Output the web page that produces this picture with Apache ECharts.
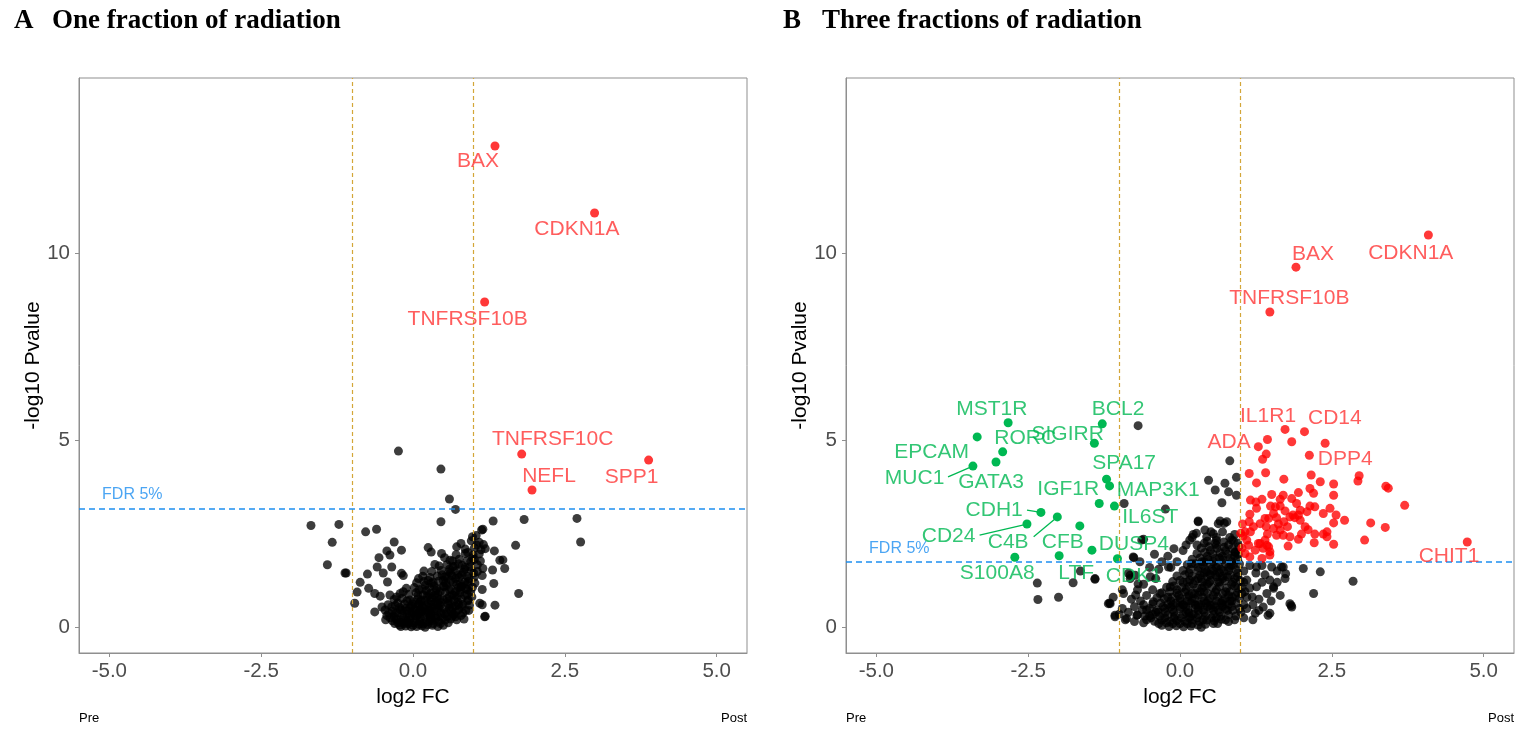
<!DOCTYPE html>
<html><head><meta charset="utf-8">
<script src="https://cdn.jsdelivr.net/npm/echarts@6/dist/echarts.min.js"></script>
<style>html,body{margin:0;padding:0;background:#fff}#c{width:1523px;height:733px}</style>
</head><body><div id="c"></div>
<script>
// ---------- axis ticks ----------
const xTicks = [-5, -2.5, 0, 2.5, 5];
const yTicks = [0, 5, 10];
const fdrOne = 3.16;
const fdrThree = 1.76;

// ---------- Panel A: one fraction ----------
const oneRedGenes = ['BAX','CDKN1A','TNFRSF10B','TNFRSF10C','NEFL','SPP1'];
const oneRedFC    = [1.35, 2.99, 1.18, 1.79, 1.96, 3.88];
const oneRedP     = [12.87, 11.08, 8.70, 4.63, 3.67, 4.47];
const oneLabelFC  = [1.07, 2.70, 0.90, 2.30, 2.24, 3.60];
const oneLabelP   = [12.47, 10.65, 8.24, 5.03, 4.04, 4.01];

const oneBlack = [
[-0.24,4.71],[0.46,4.23],[0.60,3.43],[0.70,3.15],[0.46,2.82],[-1.68,2.72],[-1.22,2.75],[-1.33,2.27],[-1.41,1.67],[-1.12,1.45],[-1.10,1.45],
[-0.78,2.55],[-0.60,2.62],[1.32,2.84],[1.83,2.88],[1.69,2.19],[1.74,0.90],[1.35,0.59],[1.19,0.29],[-0.96,0.64],[-0.92,0.94],[-0.87,1.20],
[-0.75,1.42],[-0.56,1.86],[-0.42,1.21],[-0.31,2.28],[-0.19,2.06],[-0.43,2.04],[-0.38,1.93],[-0.35,1.61],[-0.59,1.61],[-0.49,1.45],[-0.19,1.44],
[-0.16,1.38],[-0.73,1.04],[-0.63,0.90],[-0.54,0.83],[-0.38,0.86],[-0.16,0.95],[-0.27,0.81],[-0.63,0.41],[-0.51,0.54],[0.25,2.13],[0.30,2.01],
[0.47,1.97],[0.72,2.15],[0.79,2.24],[0.98,2.42],[1.13,2.60],[1.15,2.62],[1.16,2.21],[1.19,2.10],[1.34,2.04],[1.43,1.79],[1.48,1.80],[1.51,1.57],
[1.31,1.53],[1.15,1.57],[1.14,1.38],[1.33,1.17],[1.14,1.01],[1.10,0.64],[1.14,0.60],[0.79,1.08],[0.90,1.00],[0.97,0.81],[0.09,1.30],[0.18,1.50],
[0.36,1.68],[0.52,1.86],[0.65,1.77],[2.70,2.91],[2.76,2.28],[1.18,0.28],
[-0.22,0.06],[-0.12,0.03],[-0.03,0.01],[0.06,0.02],[0.15,0.04],[0.24,0.07],[0.33,0.10],[-0.08,0.09],[0.10,0.08],[0.20,0.00],
[-0.34,0.17],[-0.21,0.13],[-0.10,0.15],[0.01,0.12],[0.11,0.16],[0.22,0.14],[0.31,0.18],[0.43,0.15],[0.53,0.19],[-0.28,0.22],[0.05,0.21],[0.38,0.24],
[-0.43,0.31],[-0.31,0.28],[-0.17,0.33],[-0.06,0.29],[0.07,0.32],[0.19,0.27],[0.29,0.33],[0.41,0.30],[0.56,0.28],[0.67,0.34],[0.79,0.31],[0.62,0.22],[0.72,0.20],
[-0.46,0.46],[-0.34,0.43],[-0.21,0.47],[-0.09,0.44],[0.03,0.48],[0.15,0.42],[0.27,0.46],[0.40,0.44],[0.51,0.49],[0.63,0.43],[0.75,0.47],[0.87,0.45],[-0.40,0.38],[0.10,0.38],[0.46,0.38],
[-0.41,0.60],[-0.29,0.58],[-0.14,0.62],[-0.03,0.57],[0.10,0.61],[0.22,0.59],[0.34,0.63],[0.45,0.58],[0.58,0.62],[0.70,0.57],[0.82,0.61],[0.93,0.59],[-0.22,0.53],[0.28,0.53],[0.65,0.52],
[-0.31,0.74],[-0.18,0.77],[-0.05,0.73],[0.08,0.76],[0.20,0.72],[0.31,0.78],[0.44,0.74],[0.56,0.77],[0.68,0.72],[0.80,0.76],[0.91,0.73],[0.00,0.68],[0.38,0.68],[0.74,0.67],
[-0.21,0.90],[-0.07,0.88],[0.05,0.92],[0.17,0.87],[0.29,0.91],[0.41,0.89],[0.53,0.93],[0.65,0.87],[0.77,0.92],[0.89,0.88],[0.23,0.82],[0.60,0.82],
[-0.11,1.04],[0.02,1.06],[0.15,1.02],[0.27,1.07],[0.39,1.03],[0.51,1.08],[0.63,1.02],[0.75,1.06],[0.87,1.03],[0.98,1.07],
[0.06,1.19],[0.18,1.22],[0.30,1.18],[0.42,1.23],[0.54,1.19],[0.66,1.21],[0.78,1.17],[0.91,1.22],[1.02,1.18],
[0.16,1.36],[0.28,1.33],[0.40,1.37],[0.52,1.34],[0.64,1.38],[0.76,1.33],[0.89,1.36],[1.01,1.34],
[0.31,1.49],[0.46,1.52],[0.59,1.48],[0.71,1.51],[0.83,1.47],[0.96,1.52],[1.06,1.49],
[0.43,1.64],[0.56,1.67],[0.69,1.63],[0.81,1.66],[0.94,1.62],[1.06,1.67],
[0.61,1.79],[0.76,1.82],[0.89,1.78],[1.01,1.81],[1.11,1.77],
[0.71,1.94],[0.86,1.97],[0.99,1.93],[1.09,1.96],
[0.86,2.09],[1.01,2.12],[1.12,2.07],[0.96,2.31],[1.09,2.27],[1.04,2.45],
[-0.20,0.20],[-0.10,0.35],[0.00,0.40],[0.12,0.25],[0.25,0.38],[0.35,0.50],[0.15,0.55],[-0.05,0.52],[0.45,0.66],[0.30,0.70],[0.12,0.68],[0.55,0.40],
[0.70,0.40],[0.80,0.55],[0.90,0.70],[0.60,1.00],[0.45,0.95],[0.35,0.85],[0.70,0.95],[0.80,1.10],[0.50,1.25],[0.70,1.30],[0.60,1.55],[0.85,1.55],
[0.20,1.12],[-0.30,0.10],[0.45,0.10],[-0.15,0.10],[0.28,0.20],
[-0.30,0.35],[-0.18,0.45],[-0.05,0.20],[0.05,0.45],[0.18,0.50],[0.30,0.42],[0.42,0.52],[0.52,0.35],[0.60,0.50],[0.75,0.60],[0.85,0.85],[0.68,0.85],
[0.50,0.72],[0.25,0.65],[0.08,0.85],[-0.10,0.70],[0.40,0.80],[0.55,1.12],[0.35,1.10],[0.72,1.15],[0.92,1.30],[0.62,1.45],[0.80,1.40],[0.95,1.75],
[0.75,1.70],[0.90,2.00],[0.25,1.25],[-0.35,0.55],[-0.25,0.65],[0.10,1.00],[0.32,0.05],[0.00,0.05],[-0.15,0.25],[0.50,0.05],[0.65,0.30],[0.82,0.38],
[-0.38,0.25],[-0.26,0.38],[-0.12,0.50],[0.00,0.62],[0.13,0.72],[0.26,0.86],[0.38,0.98],[0.50,1.10],[0.62,1.25],[0.74,1.40],[0.86,1.60],[0.98,1.85],
[1.05,2.20],[-0.20,0.02],[-0.08,0.14],[0.04,0.30],[0.17,0.10],[0.29,0.28],[0.41,0.02],[0.48,0.25],[0.58,0.12],[0.70,0.28],[0.84,0.22],[0.92,0.45],
[0.95,0.95],[0.85,1.20],[0.66,1.62],[0.48,1.40],[0.33,1.20],[0.22,0.98],[0.58,0.70],[0.72,0.80],[0.40,0.60],[0.20,0.35],[-0.02,0.35],[-0.25,0.12],
[0.12,0.45],[0.35,0.30],[0.62,0.62],[0.78,1.00],[0.90,1.15],[1.00,1.45],[0.55,1.35],[0.08,0.60],[-0.45,0.20]
];

// ---------- Panel B: three fractions ----------
const threeRedGenes = ['BAX','CDKN1A','TNFRSF10B','IL1R1','CD14','ADA','DPP4','CHIT1'];
const threeRedLabelFC = [2.19, 3.80, 1.80, 1.45, 2.55, 0.81, 2.72, 4.43];
const threeRedLabelP  = [9.98, 10.01, 8.81, 5.65, 5.59, 4.95, 4.50, 1.90];

const threeGreenGenes = ['MST1R','EPCAM','RORC','SIGIRR','BCL2','MUC1','GATA3','SPA17','MAP3K1','IGF1R','IL6ST','CDH1','CD24','C4B','CFB','DUSP4','S100A8','LTF','CDK1'];
const threeGreenFC = [-2.83,-3.34,-2.92,-1.41,-1.28,-3.41,-3.03,-1.21,-1.16,-1.33,-1.08,-2.29,-2.52,-2.02,-1.65,-1.45,-2.72,-1.99,-1.03];
const threeGreenP  = [5.47,5.09,4.69,4.92,5.44,4.31,4.42,3.96,3.78,3.31,3.24,3.07,2.76,2.95,2.71,2.06,1.87,1.91,1.83];
const threeGreenLabelFC = [-3.10,-4.09,-2.55,-1.85,-1.02,-4.37,-3.11,-0.92,-0.36,-1.84,-0.49,-3.06,-3.81,-2.83,-1.93,-0.76,-3.01,-1.71,-0.76];
const threeGreenLabelP  = [5.83,4.68,5.06,5.17,5.83,3.99,3.88,4.39,3.67,3.69,2.94,3.13,2.43,2.28,2.28,2.22,1.44,1.44,1.36];
// label connector segments [fromFC, fromP, toFC, toP]
const threeConnectors = [[-3.82,4.02,-3.41,4.31],[-2.52,3.13,-2.29,3.07],[-3.30,2.46,-2.52,2.76],[-2.41,2.42,-2.02,2.95]];

const threeRed = [
[4.09,10.49],[1.91,9.63],[1.48,8.43],[4.73,2.28],
[1.73,5.29],[2.05,5.23],[1.44,5.02],[1.84,4.96],[2.39,4.92],[1.29,4.83],[1.42,4.63],[1.36,4.49],[2.13,4.60],[1.14,4.11],[1.41,4.13],[1.71,3.96],
[2.16,4.07],[1.26,3.86],[2.31,3.89],[2.14,3.71],[2.20,3.58],[2.53,3.83],[2.53,3.53],[2.95,4.05],[2.93,3.91],[3.39,3.77],[3.43,3.72],[3.70,3.26],
[1.95,3.60],[1.51,3.55],[1.35,3.42],[1.16,3.40],[1.25,3.35],[1.26,3.18],[1.15,3.02],[1.03,2.76],[1.00,2.51],[1.07,2.55],[1.16,2.55],[1.10,2.33],
[1.02,2.12],[1.15,1.88],[1.35,1.84],[1.48,1.93],[1.32,2.24],[1.40,2.33],[1.46,2.15],[1.44,2.49],[1.54,2.64],[1.42,2.69],[1.32,2.77],[1.46,2.91],
[1.59,2.93],[1.49,3.24],[1.57,3.22],[1.65,3.24],[1.73,3.11],[1.84,3.44],[1.92,3.31],[1.86,3.00],[1.95,3.00],[1.98,2.86],[2.06,2.69],[2.11,2.61],
[2.22,2.49],[2.21,2.26],[2.36,2.49],[2.42,2.55],[2.42,2.42],[2.53,2.22],[2.36,3.04],[2.47,3.18],[2.57,3.00],[2.53,2.79],[2.71,2.86],[3.14,2.79],
[3.38,2.67],[3.04,2.33],[1.77,2.69],[1.70,2.46],[1.59,2.46],[1.65,2.60],[1.78,2.17],[1.95,2.35],[2.00,2.49],[1.81,2.42],[1.43,2.19],[1.37,2.11],
[1.29,2.24],[1.48,2.02],[1.62,2.76],[1.71,2.82],[1.81,2.95],[1.89,2.93],[1.54,3.04],[1.40,2.91],[1.21,2.69],[1.14,2.82],[1.04,2.44],[1.13,2.19],
[1.07,1.97],[1.24,2.06],[1.70,3.53],[1.65,3.42],[2.14,3.24],[2.22,3.22],[2.09,3.09],[1.98,3.13]
];

const threeBlack = [
[-0.69,5.39],[-2.35,1.18],[-2.34,0.74],[-2.00,0.80],[-1.76,1.19],[-1.64,1.50],[-1.40,1.28],[-0.92,3.31],[-0.24,3.16],[-0.63,2.33],[-0.60,2.35],
[-0.42,1.95],[-0.76,1.86],[-0.74,1.39],[-0.69,1.16],[-0.73,0.86],[-1.16,0.65],[-1.07,0.28],[0.82,4.45],[0.47,3.93],[0.93,4.01],[0.58,3.67],
[0.80,3.62],[0.69,3.33],[0.74,3.85],[0.93,3.53],[0.30,2.84],[0.66,2.84],[0.73,2.78],[0.41,2.60],[0.51,2.55],[0.16,2.33],[0.22,2.48],[-0.77,1.88],
[-0.85,1.44],[-0.82,1.30],[-1.15,0.63],[-1.40,1.30],[1.67,1.61],[2.03,1.57],[2.20,0.90],[1.81,0.63],[1.83,0.58],[1.48,1.26],[1.45,0.32],[2.31,1.48],
[2.85,1.23],[1.70,1.61],[1.74,1.43],[1.54,1.08],[0.30,2.82],[0.63,2.77],[0.77,2.82],[0.27,2.51],[0.44,2.42],[0.58,2.24],[0.85,2.33],[0.91,2.02],
[-0.66,1.75],[-0.19,1.61],[-0.49,1.35],[-0.82,1.39],[-0.93,0.90],[-1.18,0.63],[-1.07,0.32],[-0.88,0.23],[0.19,1.70],[0.36,1.75],[0.44,1.48],[0.16,1.26],
[-0.16,1.08],[-0.33,0.90],[-0.44,0.68],[-0.55,0.46],[-0.71,0.32],[1.26,1.61],[1.51,1.61],[1.73,1.30],[1.26,1.08],[1.43,0.90],[1.54,1.04],[1.37,0.54],
[1.24,0.37],[1.48,0.37],[1.84,0.54],[1.19,0.81],[1.10,1.26],
[1.05,1.50],[1.15,1.65],[1.25,1.45],[1.35,1.65],[1.40,1.40],[1.60,1.50],[1.10,0.50],[1.20,0.60],[1.30,0.75],[1.35,1.20],[1.60,1.20],[1.65,0.85],
[1.50,0.70],[1.20,0.20],[1.05,0.25],[1.15,1.05],[1.30,0.45],
[-0.30,0.05],[-0.18,0.02],[-0.06,0.04],[0.06,0.01],[0.18,0.03],[0.30,0.06],[0.42,0.08],[0.12,0.10],[-0.12,0.10],
[-0.55,0.20],[-0.42,0.16],[-0.30,0.19],[-0.17,0.15],[-0.05,0.18],[0.08,0.16],[0.20,0.20],[0.32,0.15],[0.44,0.19],[0.56,0.17],[0.68,0.21],
[-0.70,0.33],[-0.58,0.30],[-0.45,0.34],[-0.33,0.29],[-0.20,0.33],[-0.08,0.30],[0.05,0.34],[0.17,0.29],[0.30,0.33],[0.42,0.30],[0.55,0.34],[0.67,0.29],[0.80,0.33],[0.92,0.30],
[-0.62,0.47],[-0.50,0.50],[-0.37,0.46],[-0.25,0.50],[-0.12,0.47],[0.00,0.49],[0.13,0.45],[0.25,0.50],[0.38,0.46],[0.50,0.50],[0.63,0.46],[0.75,0.49],[0.87,0.45],[0.98,0.50],
[-0.45,0.62],[-0.32,0.65],[-0.20,0.61],[-0.07,0.64],[0.06,0.60],[0.18,0.65],[0.31,0.61],[0.43,0.64],[0.56,0.60],[0.68,0.65],[0.80,0.61],[0.93,0.64],[1.05,0.60],
[-0.38,0.79],[-0.26,0.76],[-0.13,0.80],[0.00,0.77],[0.12,0.81],[0.24,0.76],[0.37,0.80],[0.49,0.77],[0.62,0.81],[0.74,0.76],[0.86,0.80],[0.98,0.77],[1.10,0.80],
[-0.30,0.92],[-0.17,0.95],[-0.05,0.91],[0.08,0.94],[0.20,0.90],[0.33,0.95],[0.45,0.91],[0.58,0.94],[0.70,0.90],[0.82,0.95],[0.95,0.92],[1.07,0.95],
[-0.22,1.07],[-0.10,1.10],[0.03,1.06],[0.15,1.09],[0.28,1.05],[0.40,1.10],[0.53,1.06],[0.65,1.09],[0.77,1.05],[0.90,1.10],[1.02,1.07],
[-0.12,1.22],[0.00,1.25],[0.12,1.21],[0.25,1.24],[0.37,1.20],[0.50,1.25],[0.62,1.21],[0.74,1.24],[0.87,1.20],[0.99,1.25],
[-0.05,1.37],[0.08,1.40],[0.20,1.36],[0.33,1.39],[0.45,1.35],[0.58,1.40],[0.70,1.36],[0.83,1.39],[0.95,1.35],
[0.05,1.52],[0.17,1.55],[0.30,1.51],[0.42,1.54],[0.55,1.50],[0.67,1.55],[0.80,1.51],[0.92,1.54],
[0.12,1.67],[0.25,1.70],[0.38,1.66],[0.50,1.69],[0.63,1.65],[0.75,1.70],[0.88,1.66],[0.98,1.69],
[0.20,1.82],[0.33,1.85],[0.46,1.81],[0.58,1.84],[0.71,1.80],[0.83,1.85],[0.95,1.81],
[0.28,1.97],[0.41,2.00],[0.54,1.96],[0.66,1.99],[0.79,1.95],[0.91,2.00],
[0.35,2.12],[0.48,2.15],[0.61,2.11],[0.73,2.14],[0.86,2.10],[0.97,2.15],
[0.45,2.30],[0.60,2.32],[0.72,2.28],[0.88,2.31],[0.55,2.50],[0.70,2.55],[0.90,2.48],
[-0.45,1.00],[-0.55,0.85],[-0.65,0.70],[-0.75,0.55],[-0.85,0.40],[-0.80,0.75],[-0.60,1.15],[-0.40,1.30],[-0.35,1.55],[-0.30,1.75],[-0.15,1.60],
[-0.20,1.90],[-0.05,1.75],[0.05,2.05],[0.10,2.20],[-0.10,2.10],[0.20,2.40],[-0.50,1.60],[-0.95,0.50],[-1.00,0.35],[-0.90,0.20],[-0.75,0.15],
[-0.95,1.00],[-1.10,0.80],[-0.70,1.00],
[-0.25,0.25],[-0.10,0.40],[0.02,0.25],[0.15,0.38],[0.28,0.25],[0.40,0.40],[0.52,0.25],[0.65,0.40],[0.78,0.45],[0.10,0.55],[0.30,0.55],[0.50,0.58],
[0.70,0.55],[0.85,0.70],[0.40,0.70],[0.20,0.70],[0.00,0.70],[-0.15,0.55],[0.55,0.85],[0.30,0.85],[0.75,0.95],[0.60,1.00],[0.45,1.15],[0.85,1.15],
[0.70,1.30],[0.40,1.45],[0.60,1.60],[0.85,1.75],[0.75,2.05],[0.20,0.10],[-0.35,0.10],[0.55,0.10],
[-0.40,0.40],[-0.28,0.55],[-0.15,0.70],[-0.02,0.85],[0.10,1.00],[0.22,1.15],[0.35,1.30],[0.50,1.40],[0.65,1.45],[0.80,1.60],[0.90,1.90],[0.65,1.85],
[0.50,2.05],[0.60,2.20],[0.80,2.20],[0.95,1.45],[0.95,1.05],[0.85,0.55],[0.60,0.70],[0.45,0.55],[0.25,0.60],[0.05,0.60],[-0.10,0.25],[0.15,0.25],
[0.38,0.20],[0.60,0.25],[0.75,0.20],[0.30,0.45],[0.55,0.45],[0.70,0.70],[0.15,0.85],[0.40,0.95],[0.65,1.20],[0.30,1.60],[-0.50,0.30],[-0.60,0.60],
[0.80,0.85],[1.00,0.40],[1.02,0.90],[1.05,1.20],
[-0.60,0.12],[-0.48,0.25],[-0.36,0.40],[-0.24,0.40],[-0.12,0.60],[0.00,0.55],[0.12,0.70],[0.24,0.90],[0.36,1.05],[0.48,1.20],[0.60,1.35],[0.72,1.50],
[0.84,1.65],[0.96,1.95],[0.10,0.40],[0.22,0.35],[0.34,0.60],[0.46,0.70],[0.58,0.55],[0.70,0.60],[0.82,0.70],[0.92,0.85],[0.90,1.30],[0.78,1.35],
[0.52,1.55],[0.40,1.75],[0.55,1.75],[0.70,1.90],[0.45,1.90],[0.30,1.30],[0.15,1.45],[0.05,1.20],[-0.05,1.00],[-0.20,0.80],[0.62,0.10],[0.80,0.15],
[0.90,0.20],[0.35,0.00],[0.00,0.10],[-0.22,0.12],[0.60,2.40],[0.82,2.40],[0.95,2.25],[0.40,2.25],[0.28,2.20]
];

// ---------- styling ----------
const SANS = '"Liberation Sans", Arial, Helvetica, sans-serif';
const SERIF = '"Liberation Serif", "Times New Roman", serif';
const GOLD = '#d3a638';
const BLUE = '#1e8ff0';
const RED = '#ff3535';
const GREEN = '#00b852';
const AXIS_GREY = '#8f8f8f';

const grids = [
  {left: 79, top: 78, width: 668, height: 575},
  {left: 846, top: 78, width: 668, height: 575}
].map(g => Object.assign({show: true, borderColor: AXIS_GREY, borderWidth: 1, backgroundColor: '#fff'}, g));

function xAxisCfg(gi) {
  return {
    gridIndex: gi, type: 'value', min: -5.5, max: 5.5,
    name: 'log2 FC', nameLocation: 'middle', nameGap: 30,
    nameTextStyle: {fontSize: 21, color: '#000', fontFamily: SANS},
    axisLine: {show: true, onZero: false, lineStyle: {color: AXIS_GREY, width: 1}},
    axisTick: {show: true, length: 4, customValues: xTicks, lineStyle: {color: AXIS_GREY}},
    axisLabel: {customValues: xTicks, formatter: v => Number(v).toFixed(1), fontSize: 20.5, color: '#4d4d4d', margin: 8, fontFamily: SANS},
    splitLine: {show: false}
  };
}
function yAxisCfg(gi) {
  return {
    gridIndex: gi, type: 'value', min: -0.69, max: 14.69,
    name: '-log10 Pvalue', nameLocation: 'middle', nameGap: 34,
    nameTextStyle: {fontSize: 21, color: '#000', fontFamily: SANS},
    axisLine: {show: true, onZero: false, lineStyle: {color: AXIS_GREY, width: 1}},
    axisTick: {show: true, length: 4, customValues: yTicks, lineStyle: {color: AXIS_GREY}},
    axisLabel: {customValues: yTicks, fontSize: 20.5, color: '#4d4d4d', margin: 9, fontFamily: SANS},
    splitLine: {show: false}
  };
}

function pointSeries(gi, data, color, opacity) {
  return {
    type: 'scatter', xAxisIndex: gi, yAxisIndex: gi, data: data,
    symbolSize: 9, silent: true, z: 2, large: false,
    itemStyle: {color: color, opacity: opacity}
  };
}
function labelSeries(gi, names, xs, ys, color, extraItems, markLine) {
  const data = names.map((n, i) => ({name: n, value: [xs[i], ys[i]]}));
  return {
    type: 'scatter', xAxisIndex: gi, yAxisIndex: gi, symbolSize: 0, silent: true, z: 5,
    itemStyle: {color: 'transparent'},
    label: {show: true, position: 'inside', formatter: '{b}', color: color, fontSize: 21, fontFamily: SANS},
    data: data.concat(extraItems || []),
    markLine: markLine
  };
}
function refLines(fdr) {
  return {
    silent: true, symbol: 'none', animation: false, label: {show: false},
    data: [
      {xAxis: -1, lineStyle: {color: GOLD, type: [4, 3], width: 1.2}},
      {xAxis: 1, lineStyle: {color: GOLD, type: [4, 3], width: 1.2}},
      {yAxis: fdr, lineStyle: {color: BLUE, type: [6, 4], width: 1.5}}
    ]
  };
}
function fdrLabel(y) {
  return {name: 'FDR 5%', value: [-5.12, y], label: {color: BLUE, fontSize: 16, align: 'left'}};
}

const oneRed = oneRedFC.map((x, i) => [x, oneRedP[i]]);
const threeGreen = threeGreenFC.map((x, i) => [x, threeGreenP[i]]);

const option = {
  animation: false,
  backgroundColor: '#fff',
  grid: grids,
  xAxis: [xAxisCfg(0), xAxisCfg(1)],
  yAxis: [yAxisCfg(0), yAxisCfg(1)],
  series: [
    pointSeries(0, oneBlack, '#000', 0.76),
    pointSeries(0, oneRed, '#ff0000', 0.78),
    labelSeries(0, oneRedGenes, oneLabelFC, oneLabelP, RED, [fdrLabel(fdrOne + 0.4)], refLines(fdrOne)),
    pointSeries(1, threeBlack, '#000', 0.76),
    pointSeries(1, threeRed, '#ff0000', 0.78),
    pointSeries(1, threeGreen, GREEN, 1),
    labelSeries(1, threeRedGenes, threeRedLabelFC, threeRedLabelP, RED, [fdrLabel(fdrThree + 0.35)], refLines(fdrThree)),
    labelSeries(1, threeGreenGenes, threeGreenLabelFC, threeGreenLabelP, GREEN, [], {
      silent: true, symbol: 'none', animation: false, label: {show: false},
      lineStyle: {color: GREEN, type: 'solid', width: 1.3},
      data: threeConnectors.map(c => [{coord: [c[0], c[1]]}, {coord: [c[2], c[3]]}])
    })
  ],
  graphic: [
    {type: 'text', x: 14, y: 21, style: {text: 'A', font: 'bold 27px ' + SERIF, fill: '#000', verticalAlign: 'middle'}},
    {type: 'text', x: 52, y: 21, style: {text: 'One fraction of radiation', font: 'bold 27px ' + SERIF, fill: '#000', verticalAlign: 'middle'}},
    {type: 'text', x: 783, y: 21, style: {text: 'B', font: 'bold 27px ' + SERIF, fill: '#000', verticalAlign: 'middle'}},
    {type: 'text', x: 822, y: 21, style: {text: 'Three fractions of radiation', font: 'bold 27px ' + SERIF, fill: '#000', verticalAlign: 'middle'}},
    {type: 'text', x: 79, y: 718, style: {text: 'Pre', font: '13px ' + SANS, fill: '#000', verticalAlign: 'middle'}},
    {type: 'text', x: 747, y: 718, style: {text: 'Post', font: '13px ' + SANS, fill: '#000', align: 'right', verticalAlign: 'middle'}},
    {type: 'text', x: 846, y: 718, style: {text: 'Pre', font: '13px ' + SANS, fill: '#000', verticalAlign: 'middle'}},
    {type: 'text', x: 1514, y: 718, style: {text: 'Post', font: '13px ' + SANS, fill: '#000', align: 'right', verticalAlign: 'middle'}}
  ]
};

const chart = echarts.init(document.getElementById('c'), null, {renderer: 'canvas'});
chart.setOption(option);
</script></body></html>
